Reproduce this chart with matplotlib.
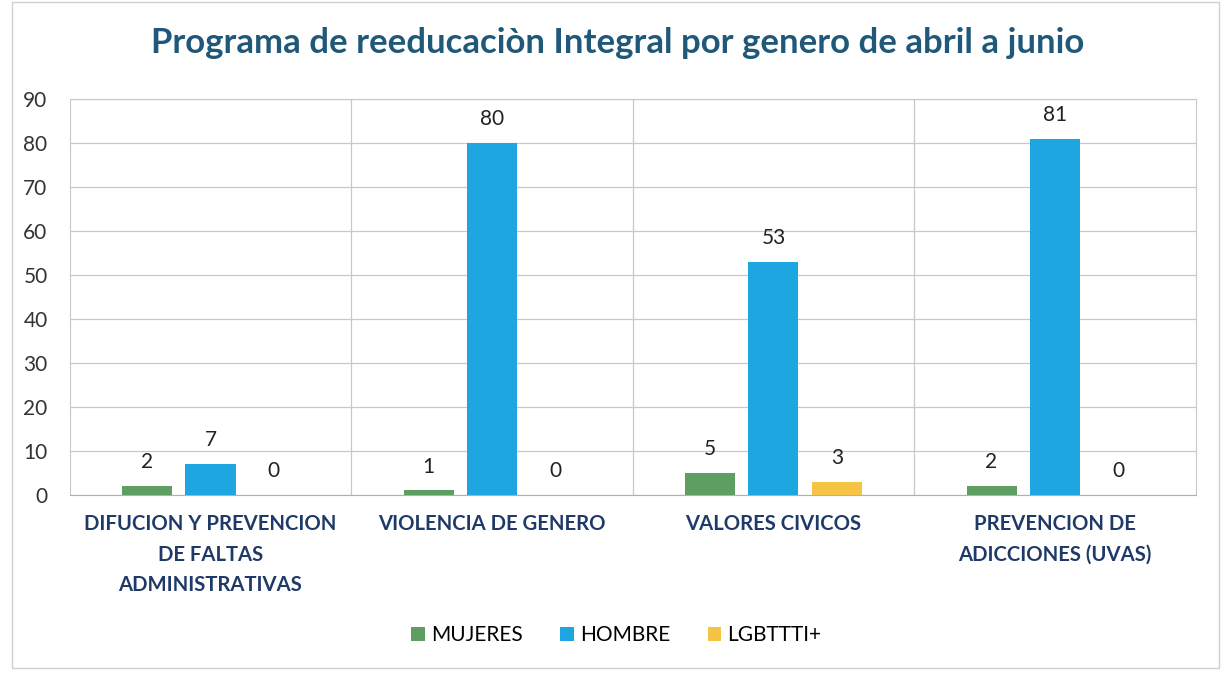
import numpy as np
from matplotlib import pyplot as plt
from matplotlib.patches import Rectangle

plt.rcParams['font.family'] = ['Lato', 'DejaVu Sans']

# ============================== Data =============================== #
title = "Programa de reeducaciòn Integral por genero de abril a junio"
categories = ["DIFUCION Y PREVENCION\nDE FALTAS\nADMINISTRATIVAS",
              "VIOLENCIA DE GENERO",
              "VALORES CIVICOS",
              "PREVENCION DE\nADICCIONES (UVAS)"]
series_names = ["MUJERES", "HOMBRE", "LGBTTTI+"]
mujeres = [2, 1, 5, 2]
hombre = [7, 80, 53, 81]
lgbttti = [0, 0, 3, 0]
colors = ["#5f9e63", "#1ea6e0", "#f5c445"]
# =================================================================== #

fig = plt.figure(figsize=(12.25, 6.76), dpi=100)
ax = fig.add_axes([0.057, 0.268, 0.919, 0.585])

x = np.arange(len(categories))
width = 0.178
gap = 0.225
for i, (name, vals) in enumerate(zip(series_names, [mujeres, hombre, lgbttti])):
    pos = x + (i - 1) * gap
    bars = ax.bar(pos, vals, width, color=colors[i], label=name,
                  linewidth=0, zorder=3)
    for b, v in zip(bars, vals):
        ax.annotate(str(v), (b.get_x() + b.get_width() / 2, v),
                    xytext=(0, 10), textcoords='offset points',
                    ha='center', va='bottom', fontsize=15, color='#222222')

ax.set_xlim(-0.5, len(categories) - 0.5)
ax.set_ylim(0, 90)
ax.set_yticks(range(0, 91, 10))
ax.tick_params(axis='y', labelsize=15, labelcolor='#333333', length=0, pad=16)
ax.set_xticks(x)
ax.set_xticklabels(categories, fontsize=14.6, fontweight='bold',
                   color='#1f3a68', linespacing=1.65)
ax.tick_params(axis='x', length=0, pad=14)
for lbl in ax.get_xticklabels():
    lbl.set_verticalalignment('top')

ax.yaxis.grid(True, color='#c8c8c8', linewidth=0.9, zorder=0)
for b in np.arange(0.5, len(categories) - 0.5, 1):
    ax.axvline(b, color='#c8c8c8', linewidth=0.9, zorder=0)
for s in ['top', 'left', 'right']:
    ax.spines[s].set_color('#c8c8c8')
ax.spines['bottom'].set_color('#b0b0b0')

fig.text(0.504, 0.937, title, ha='center', va='center', fontsize=25,
         fontweight='bold', color='#1f5878')

fig.legend(loc='center', bbox_to_anchor=(0.503, 0.06), ncol=3, frameon=False,
           fontsize=15, handlelength=0.65, handleheight=0.65,
           handletextpad=0.3, columnspacing=1.8)

fig.patches.append(Rectangle((0.01, 0.012), 0.985, 0.985, transform=fig.transFigure,
                             fill=False, edgecolor='#d0d0d0', linewidth=1))

fig.savefig('out.png', dpi=100)
